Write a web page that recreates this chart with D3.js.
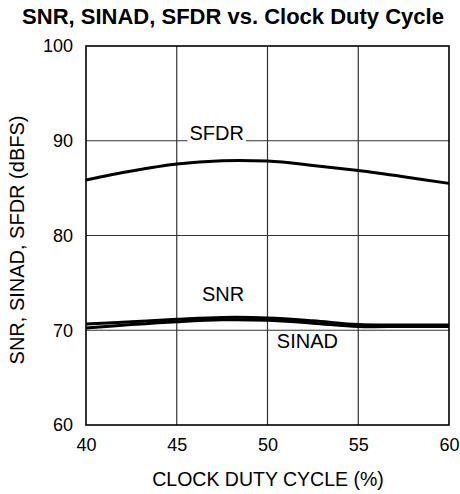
<!DOCTYPE html>
<html>
<head>
<meta charset="utf-8">
<script src="https://cdn.jsdelivr.net/npm/d3@7"></script>
<style>
html,body{margin:0;padding:0;background:#fff;}
text{font-family:"Liberation Sans",Arial,Helvetica,sans-serif;fill:#000;}
</style>
</head>
<body>
<svg id="chart" width="460" height="494"></svg>
<script>
const dutyCycle = [40, 42.5, 45, 47.5, 50, 52.5, 55, 57.5, 60];
const sfdr  = [85.85, 86.8, 87.55, 87.9, 87.85, 87.4, 86.85, 86.2, 85.5];
const snr   = [70.65, 70.9, 71.15, 71.35, 71.3, 71.0, 70.6, 70.55, 70.55];
const sinad = [70.25, 70.6, 70.9, 71.1, 71.05, 70.75, 70.4, 70.4, 70.4];
const xTicks = [40, 45, 50, 55, 60];
const yTicks = [60, 70, 80, 90, 100];
const title = "SNR, SINAD, SFDR vs. Clock Duty Cycle";
const xTitle = "CLOCK DUTY CYCLE (%)";
const yTitle = "SNR, SINAD, SFDR (dBFS)";
const seriesLabels = [
  {name: "SFDR", x: 47.2, y: 90, box: true},
  {name: "SNR", x: 47.55, y: 73.0, box: false},
  {name: "SINAD", x: 52.2, y: 68.0, box: false}
];

const svg = d3.select("#chart");
const L = 86, R = 449, T = 46, B = 425;
const x = d3.scaleLinear().domain([40, 60]).range([L, R]);
const y = d3.scaleLinear().domain([60, 100]).range([B, T]);

svg.append("text").attr("x", 233).attr("y", 24).attr("text-anchor", "middle")
  .style("font-weight", "bold").style("font-size", "22px").text(title);

// grid
const g = svg.append("g");
g.selectAll(".vg").data(xTicks.slice(1, -1)).enter().append("line")
  .attr("x1", d => x(d)).attr("x2", d => x(d)).attr("y1", T).attr("y2", B)
  .attr("stroke", "#333").attr("stroke-width", 1.2);
g.selectAll(".hg").data(yTicks.slice(1, -1)).enter().append("line")
  .attr("x1", L).attr("x2", R).attr("y1", d => y(d)).attr("y2", d => y(d))
  .attr("stroke", "#333").attr("stroke-width", 1.2);

// frame
svg.append("rect").attr("x", L).attr("y", T).attr("width", R - L).attr("height", B - T)
  .attr("fill", "none").attr("stroke", "#000").attr("stroke-width", 1.6);

// axes labels via d3 axes
const xAxis = svg.append("g").attr("transform", `translate(0,${B})`)
  .call(d3.axisBottom(x).tickValues(xTicks).tickSize(0).tickPadding(13));
xAxis.select(".domain").remove();
xAxis.selectAll("text").style("font-size", "18px").attr("font-family", null);

const yAxis = svg.append("g").attr("transform", `translate(${L},0)`)
  .call(d3.axisLeft(y).tickValues(yTicks).tickSize(0).tickPadding(13));
yAxis.select(".domain").remove();
yAxis.selectAll("text").style("font-size", "18px").attr("font-family", null);

svg.append("text").attr("x", 268).attr("y", 486).attr("text-anchor", "middle")
  .style("font-size", "19.5px").text(xTitle);
svg.append("text").attr("transform", `translate(24,240) rotate(-90)`)
  .attr("text-anchor", "middle").style("font-size", "20px").text(yTitle);

// lines
const line = d3.line().x((d, i) => x(dutyCycle[i])).y(d => y(d)).curve(d3.curveCatmullRom);
const lines = [
  {data: sfdr, w: 3},
  {data: snr, w: 3},
  {data: sinad, w: 3}
];
svg.append("g").selectAll("path").data(lines).enter().append("path")
  .attr("d", d => line(d.data)).attr("fill", "none").attr("stroke", "#000")
  .attr("stroke-width", d => d.w);

// series labels
const lg = svg.append("g");
seriesLabels.forEach(s => {
  const t = lg.append("text").attr("x", x(s.x)).attr("y", y(s.y) - 1).attr("text-anchor", "middle")
    .style("font-size", "20px").text(s.name);
  if (s.box) {
    const bb = t.node().getBBox();
    lg.append("rect").attr("x", bb.x - 2).attr("y", bb.y).attr("width", bb.width + 4)
      .attr("height", y(s.y) - bb.y + 1.5).attr("fill", "#fff");
    t.raise();
  }
});
</script>
</body>
</html>
